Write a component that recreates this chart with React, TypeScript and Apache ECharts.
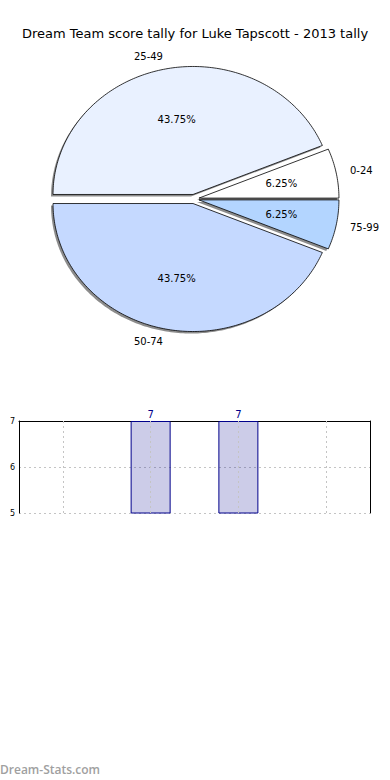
import React, { useEffect, useRef } from "react";
import * as echarts from "echarts";

const titleText = "Dream Team score tally for Luke Tapscott - 2013 tally";
const categories = ["0-24", "25-49", "50-74", "75-99"];
const counts = [1, 7, 7, 1];
const sliceColors = ["#ffffff", "#e9f1ff", "#c5d9ff", "#b3d5ff"];
const yTicks = [5, 6, 7];
const watermark = "Dream-Stats.com";

const FONT = "DejaVu Sans";

export default function App() {
  const ref = useRef<HTMLDivElement>(null);
  useEffect(() => {
    if (!ref.current) return;
    const chart = echarts.init(ref.current, null, { renderer: "svg" });
    const total = counts.reduce((a, b) => a + b, 0);
    const cx = 194, cy = 199, rx = 140, ry = 128, ex = 0.036;
    const yMin = yTicks[0];
    const yMax = yTicks[yTicks.length - 1];
    const gridLine = { type: [2, 3], color: "#c4c4c4", width: 1 };

    const renderPie = (params: any, api: any) => {
      const i = params.dataIndex;
      let before = 0;
      for (let k = 0; k < i; k++) before += counts[k];
      const v = api.value(0);
      const a0 = (before / total) * Math.PI * 2;
      const a1 = ((before + v) / total) * Math.PI * 2;
      const mid = (a0 + a1) / 2;
      const ox = cx + ex * rx * Math.cos(mid);
      const oy = cy - ex * ry * Math.sin(mid);
      const pts: number[][] = [[ox, oy]];
      const steps = Math.max(8, Math.ceil(((a1 - a0) * 180) / Math.PI));
      for (let s = 0; s <= steps; s++) {
        const a = a0 + ((a1 - a0) * s) / steps;
        pts.push([ox + rx * Math.cos(a), oy - ry * Math.sin(a)]);
      }
      const shadowPts = pts.map((p) => [p[0] - 2, p[1] + 2]);
      const lx = ox + 1.1 * rx * Math.cos(mid);
      const ly = oy - 1.1 * ry * Math.sin(mid);
      const px = ox + 0.6 * rx * Math.cos(mid);
      const py = oy - 0.6 * ry * Math.sin(mid);
      return {
        type: "group",
        children: [
          { type: "polygon", shape: { points: shadowPts }, style: { fill: "rgba(0,0,0,0.45)" } },
          { type: "polygon", shape: { points: pts }, style: { fill: sliceColors[i], stroke: "#000", lineWidth: 0.8 } },
          {
            type: "text",
            x: lx,
            y: ly,
            style: {
              text: categories[i],
              fill: "#000",
              fontSize: 10,
              fontFamily: FONT,
              align: Math.cos(mid) < 0 ? "right" : "left",
              verticalAlign: "middle",
            },
          },
          {
            type: "text",
            x: px,
            y: py,
            style: {
              text: ((v / total) * 100).toFixed(2) + "%",
              fill: "#000",
              fontSize: 10,
              fontFamily: FONT,
              align: "center",
              verticalAlign: "middle",
            },
          },
        ],
      };
    };

    chart.setOption({
      animation: false,
      title: {
        text: titleText,
        left: "center",
        top: 22,
        textStyle: { fontSize: 13, fontWeight: "normal", color: "#000", fontFamily: FONT },
      },
      grid: {
        left: 19,
        top: 421,
        width: 351,
        height: 92,
        show: false,
      },
      xAxis: {
        type: "category",
        data: categories,
        position: "top",
        axisLabel: { show: false },
        axisTick: { show: false },
        axisLine: { show: true, lineStyle: { color: "#000", width: 1 } },
        splitLine: { show: false },
      },
      yAxis: [
        {
          type: "value",
          min: yMin,
          max: yMax,
          interval: 1,
          axisLabel: { fontSize: 8, color: "#000", fontFamily: FONT, margin: 4 },
          axisLine: { show: true, lineStyle: { color: "#000" } },
          axisTick: { show: false },
          splitLine: { show: true, lineStyle: gridLine },
        },
        {
          type: "value",
          position: "right",
          min: yMin,
          max: yMax,
          interval: 1,
          axisLabel: { show: false },
          axisLine: { show: true, lineStyle: { color: "#000" } },
          axisTick: { show: false },
          splitLine: { show: false },
        },
      ],
      series: [
        {
          type: "custom",
          coordinateSystem: "none",
          renderItem: renderPie,
          data: counts.map((v) => [v]),
          silent: true,
        },
        {
          type: "bar",
          barWidth: 40,
          data: counts.map((v) => ({ value: v, label: { show: v >= yMin } })),
          itemStyle: { color: "rgba(0,0,139,0.2)", borderColor: "#00008b", borderWidth: 1 },
          label: { position: "top", color: "#00008b", fontSize: 10, fontFamily: FONT, distance: 2 },
          markLine: {
            silent: true,
            symbol: "none",
            label: { show: false },
            lineStyle: gridLine,
            data: categories.map((c) => ({ xAxis: c })),
          },
        },
      ],
      graphic: [
        {
          type: "text",
          left: 0,
          top: 763,
          style: { text: watermark, fill: "#a0a0a0", fontSize: 12, fontWeight: 600, fontFamily: "Open Sans" },
        },
      ],
    });
    return () => chart.dispose();
  }, []);
  return (
    <div
      ref={ref}
      style={{ position: "absolute", left: 0, top: 0, width: 390, height: 780, background: "#fff" }}
    />
  );
}
